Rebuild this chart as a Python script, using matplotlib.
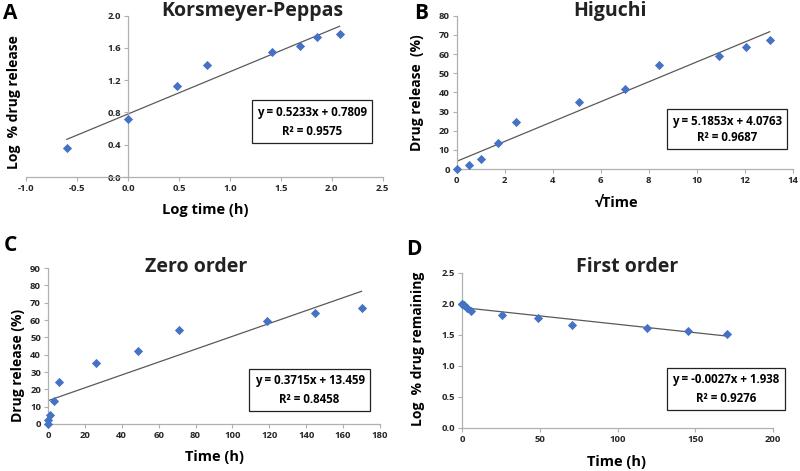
import matplotlib
matplotlib.use("Agg")
import matplotlib.pyplot as plt
import numpy as np

plt.rcParams['font.family'] = ['Open Sans', 'DejaVu Sans']

# Panel A: Korsmeyer-Peppas
kp_x = [-0.60, 0.0, 0.477, 0.778, 1.415, 1.690, 1.851, 2.076]
kp_y = [0.36, 0.716, 1.13, 1.389, 1.547, 1.623, 1.735, 1.772]
kp_fit = [0.5233, 0.7809]
kp_eq = ["y = 0.5233x + 0.7809", "R\u00b2 = 0.9575"]

# Panel B: Higuchi
hg_x = [0.0, 0.5, 1.0, 1.732, 2.449, 5.099, 7.0, 8.426, 10.909, 12.042, 13.038]
hg_y = [0.0, 2.3, 5.2, 13.5, 24.5, 35.2, 42.0, 54.3, 59.2, 63.8, 67.2]
hg_fit = [5.1853, 4.0763]
hg_eq = ["y = 5.1853x + 4.0763", "R\u00b2 = 0.9687"]

# Panel C: Zero order
zo_x = [0.0, 0.25, 1.0, 3.0, 6.0, 26.0, 49.0, 71.0, 119.0, 145.0, 170.0]
zo_y = [0.0, 2.3, 5.2, 13.5, 24.5, 35.2, 42.0, 54.3, 59.2, 63.8, 67.2]
zo_fit = [0.3715, 13.459]
zo_eq = ["y = 0.3715x + 13.459", "R\u00b2 = 0.8458"]

# Panel D: First order
fo_x = [0.0, 0.25, 1.0, 3.0, 6.0, 26.0, 49.0, 71.0, 119.0, 145.0, 170.0]
fo_y = [2.0, 1.99, 1.977, 1.937, 1.878, 1.81, 1.763, 1.66, 1.61, 1.559, 1.516]
fo_fit = [-0.0027, 1.938]
fo_eq = ["y = -0.0027x + 1.938", "R\u00b2 = 0.9276"]

fig = plt.figure(figsize=(8, 4.71), dpi=100)

MARK = '#4472c4'
LINE = '#595959'
SPINE = '#b0b0b0'


def panel(rect, x, y, fit, eq, xlim, xticks, xfmt, ylim, yticks, yfmt,
          xlabel, ylabel, title, letter, letter_pos, title_pos, box_pos,
          ylab_pos, xlab_pos, box_ls=1.5, yspine_at=None):
    ax = fig.add_axes(rect)
    ax.set_facecolor('none')
    ax.scatter(x, y, marker='D', s=22, color=MARK, zorder=3, linewidths=0,
               clip_on=False)
    xs = np.array([min(x), max(x)])
    ax.plot(xs, fit[0] * xs + fit[1], color=LINE, lw=0.9, zorder=2)
    ax.set_xlim(*xlim)
    ax.set_ylim(*ylim)
    ax.set_xticks(xticks)
    ax.set_xticklabels([xfmt.format(v) for v in xticks])
    ax.set_yticks(yticks)
    ax.set_yticklabels([yfmt.format(v) for v in yticks])
    for s in ['top', 'right']:
        ax.spines[s].set_visible(False)
    for s in ['left', 'bottom']:
        ax.spines[s].set_color(SPINE)
        ax.spines[s].set_linewidth(0.9)
    if yspine_at is not None:
        ax.spines['left'].set_position(('data', yspine_at))
    ax.tick_params(axis='both', length=3, width=0.8, color=SPINE,
                   labelsize=6.8, pad=2)
    for lab in ax.get_xticklabels() + ax.get_yticklabels():
        lab.set_fontweight('bold')
        lab.set_color('#262626')
    fig.text(ylab_pos[0], ylab_pos[1], ylabel, rotation=90,
             ha='center', va='center', fontsize=10, fontweight='bold')
    fig.text(xlab_pos[0], xlab_pos[1], xlabel, ha='center', va='center',
             fontsize=10.5, fontweight='bold')
    fig.text(title_pos[0], title_pos[1], title, ha='center', va='center',
             fontsize=14, fontweight='bold', color='#222222')
    fig.text(letter_pos[0], letter_pos[1], letter, ha='center', va='center',
             fontsize=15, fontweight='bold')
    fig.text(box_pos[0], box_pos[1], eq[0] + "\n" + eq[1], ha='center',
             va='center', fontsize=8.3, fontweight='bold', linespacing=box_ls,
             bbox=dict(boxstyle='square,pad=0.45', fc='white', ec='#222222',
                       lw=0.9))
    return ax


panel([0.0325, 0.624, 0.446, 0.343], kp_x, kp_y, kp_fit, kp_eq,
      (-1.0, 2.5), [-1.0, -0.5, 0.0, 0.5, 1.0, 1.5, 2.0, 2.5], "{:.1f}",
      (0.0, 2.0), [0.0, 0.4, 0.8, 1.2, 1.6, 2.0], "{:.1f}",
      "Log time (h)", "Log  % drug release", "Korsmeyer-Peppas", "A",
      (0.013, 0.972), (0.315, 0.977), (0.39, 0.742),
      (0.018, 0.783), (0.256, 0.554), box_ls=1.6, yspine_at=0.0)

panel([0.571, 0.641, 0.42, 0.3255], hg_x, hg_y, hg_fit, hg_eq,
      (0, 14), list(range(0, 15, 2)), "{:d}",
      (0, 80), list(range(0, 81, 10)), "{:d}",
      "\u221aTime", "Drug release  (%)", "Higuchi", "B",
      (0.526, 0.972), (0.7625, 0.977), (0.909, 0.726),
      (0.521, 0.804), (0.771, 0.569), box_ls=1.3)

panel([0.06, 0.0998, 0.415, 0.331], zo_x, zo_y, zo_fit, zo_eq,
      (0, 180), list(range(0, 181, 20)), "{:d}",
      (0, 90), list(range(0, 91, 10)), "{:d}",
      "Time (h)", "Drug release (%)", "Zero order", "C",
      (0.013, 0.478), (0.245, 0.433), (0.387, 0.172),
      (0.022, 0.225), (0.268, 0.03), box_ls=1.6)

panel([0.5775, 0.0913, 0.389, 0.33], fo_x, fo_y, fo_fit, fo_eq,
      (0, 200), list(range(0, 201, 50)), "{:d}",
      (0.0, 2.5), [0.0, 0.5, 1.0, 1.5, 2.0, 2.5], "{:.1f}",
      "Time (h)", "Log  % drug remaining", "First order", "D",
      (0.517, 0.471), (0.784, 0.433), (0.9075, 0.174),
      (0.5225, 0.26), (0.771, 0.02), box_ls=1.6)

fig.savefig("out.png", dpi=100, facecolor='white')
